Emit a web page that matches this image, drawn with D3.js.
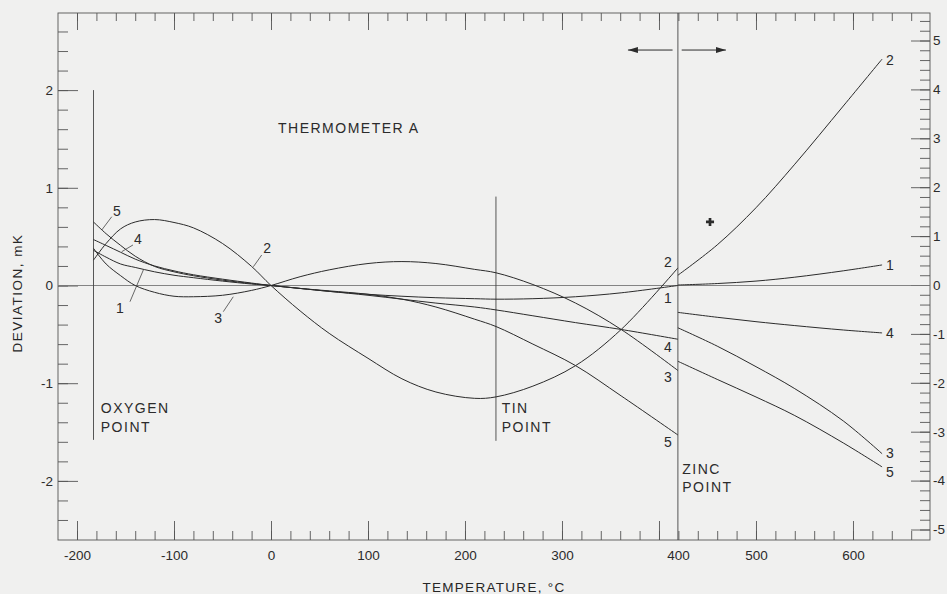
<html>
<head>
<meta charset="utf-8">
<title>Thermometer A deviations</title>
<script src="https://d3js.org/d3.v7.min.js" charset="utf-8"></script>
<style type="text/css">
    body { margin: 0; background: #f0f0ef; }
    svg { display: block; }
    text { font-family: "Liberation Sans", Arial, sans-serif; fill: #262626; }
</style>
</head>
<body>
<div id="chart"></div>
<script>
// temperatures (deg C) for the part below the zinc point
var lowTemps = [-183, -170, -155, -140, -120, -100, -80, -50, -20, 0, 30, 60, 100, 135, 170, 210, 232, 270, 314, 361, 419.5];
// deviations in mK (left scale)
var low1 = [0.36, 0.29, 0.22, 0.185, 0.14, 0.105, 0.08, 0.045, 0.015, 0, -0.03, -0.06, -0.09, -0.11, -0.125, -0.135, -0.14, -0.135, -0.115, -0.075, 0.0];
var low2 = [0.26, 0.43, 0.58, 0.65, 0.675, 0.645, 0.59, 0.43, 0.195, 0, -0.26, -0.49, -0.745, -0.955, -1.09, -1.155, -1.14, -1.03, -0.82, -0.45, 0.18];
var low3 = [0.38, 0.22, 0.1, 0.0, -0.07, -0.11, -0.115, -0.1, -0.05, 0, 0.09, 0.16, 0.225, 0.245, 0.225, 0.165, 0.13, 0.01, -0.18, -0.45, -0.87];
var low4 = [0.47, 0.41, 0.34, 0.27, 0.2, 0.15, 0.11, 0.065, 0.025, 0, -0.03, -0.06, -0.1, -0.14, -0.18, -0.22, -0.25, -0.31, -0.38, -0.45, -0.55];
var low5 = [0.65, 0.53, 0.41, 0.3, 0.195, 0.14, 0.1, 0.055, 0.02, 0, -0.03, -0.055, -0.09, -0.14, -0.22, -0.345, -0.42, -0.6, -0.82, -1.13, -1.53];

// above the zinc point (right scale)
var highTemps = [419.5, 460, 500, 540, 590, 630];
var high1 = [0.0, 0.03, 0.08, 0.16, 0.29, 0.41];
var high2 = [0.2, 0.82, 1.58, 2.47, 3.66, 4.62];
var high3 = [-0.875, -1.25, -1.67, -2.12, -2.78, -3.45];
var high4 = [-0.56, -0.66, -0.75, -0.83, -0.92, -0.98];
var high5 = [-1.56, -1.93, -2.29, -2.67, -3.23, -3.72];

var curveNames = ['1', '2', '3', '4', '5'];
var lowSeries = [low1, low2, low3, low4, low5];
var highSeries = [high1, high2, high3, high4, high5];

var xMajor = [-200, -100, 0, 100, 200, 300, 400, 500, 600];
var leftMajor = [-2, -1, 0, 1, 2];
var rightMajor = [-5, -4, -3, -2, -1, 0, 1, 2, 3, 4, 5];

var fixedPoints = {oxygen: -183, tin: 231.9, zinc: 419.5};

var W = 947, H = 594;
var margin = {top: 13, right: 17, bottom: 54, left: 58};
var x0 = margin.left, x1 = W - margin.right, y0 = margin.top, y1 = H - margin.bottom;

var ink = '#2b2b2b';

//scales
var xScale = d3.scaleLinear().domain([-219.6, 679.4]).range([x0, x1]);
var yLeft = d3.scaleLinear().domain([-(y1 - 285.5) / 97.7, (285.5 - y0) / 97.7]).range([y1, y0]);
var yRight = d3.scaleLinear().domain([-(y1 - 285) / 48.9, (285 - y0) / 48.9]).range([y1, y0]);

var svg = d3.select('#chart').append('svg')
    .attr('width', W)
    .attr('height', H)
    .style('background', '#f0f0ef');

function styleAxis(g) {
    g.select('.domain').remove();
    g.selectAll('line').style('stroke', '#555').style('stroke-width', 0.9);
    g.selectAll('text').style('font-size', '13.5px').style('fill', ink);
}
// plain hyphen like the original, not the unicode minus
var plain = function(d) { return String(d); };

// minor ticks every 20 deg, major every 100
var xMinor = d3.range(-200, 661, 20);
var leftMinor = d3.range(-24, 27, 2).map(function(d) { return d / 10; });
var rightMinor = d3.range(-50, 55, 2).map(function(d) { return d / 10; });

svg.append('g').attr('transform', 'translate(0,' + y0 + ')')
    .call(d3.axisTop(xScale).tickValues(xMinor).tickSize(-8).tickFormat('')).call(styleAxis);
svg.append('g').attr('transform', 'translate(0,' + y0 + ')')
    .call(d3.axisTop(xScale).tickValues(xMajor).tickSize(-17).tickFormat('')).call(styleAxis);
svg.append('g').attr('transform', 'translate(0,' + y1 + ')')
    .call(d3.axisBottom(xScale).tickValues(xMinor).tickSize(-9).tickFormat('')).call(styleAxis);
var bottomAxis = svg.append('g').attr('transform', 'translate(0,' + y1 + ')')
    .call(d3.axisBottom(xScale).tickValues(xMajor).tickSize(-19).tickPadding(10).tickFormat(plain))
    .call(styleAxis);
// the "400" label sits under the zinc line in the original
bottomAxis.selectAll('.tick').filter(function(d) { return d === 400; }).select('text')
    .attr('x', xScale(fixedPoints.zinc) - xScale(400));

svg.append('g').attr('transform', 'translate(' + x0 + ',0)')
    .call(d3.axisLeft(yLeft).tickValues(leftMinor).tickSize(-10).tickFormat('')).call(styleAxis);
svg.append('g').attr('transform', 'translate(' + x0 + ',0)')
    .call(d3.axisLeft(yLeft).tickValues(leftMajor).tickSize(-20).tickPadding(5).tickFormat(plain))
    .call(styleAxis);
svg.append('g').attr('transform', 'translate(' + x1 + ',0)')
    .call(d3.axisRight(yRight).tickValues(rightMinor).tickSize(-10).tickFormat('')).call(styleAxis);
svg.append('g').attr('transform', 'translate(' + x1 + ',0)')
    .call(d3.axisRight(yRight).tickValues(rightMajor).tickSize(-19).tickPadding(3).tickFormat(plain))
    .call(styleAxis);

// frame
svg.append('rect')
    .attr('x', x0).attr('y', y0)
    .attr('width', x1 - x0).attr('height', y1 - y0)
    .style('fill', 'none').style('stroke', '#555').style('stroke-width', 0.9);

// zero line
svg.append('line')
    .attr('x1', x0).attr('x2', x1)
    .attr('y1', yLeft(0)).attr('y2', yLeft(0))
    .style('stroke', '#777').style('stroke-width', 0.9);

// fixed point lines
function vline(t, dTop, dBottom) {
    svg.append('line')
        .attr('x1', xScale(t)).attr('x2', xScale(t))
        .attr('y1', yLeft(dTop)).attr('y2', yLeft(dBottom))
        .style('stroke', '#444').style('stroke-width', 0.9);
}
vline(fixedPoints.oxygen, 2, -1.58);
vline(fixedPoints.tin, 0.91, -1.59);
vline(fixedPoints.zinc, yLeft.domain()[1], yLeft.domain()[0]);

// curves
var lowLine = d3.line()
    .x(function(d) { return xScale(d[0]); })
    .y(function(d) { return yLeft(d[1]); })
    .curve(d3.curveCatmullRom.alpha(0.5));
var highLine = d3.line()
    .x(function(d) { return xScale(d[0]); })
    .y(function(d) { return yRight(d[1]); })
    .curve(d3.curveCatmullRom.alpha(0.5));

svg.append('g').selectAll('path.low')
    .data(lowSeries)
    .enter().append('path')
    .attr('d', function(s) { return lowLine(d3.zip(lowTemps, s)); })
    .style('fill', 'none').style('stroke', ink).style('stroke-width', 1);

svg.append('g').selectAll('path.high')
    .data(highSeries)
    .enter().append('path')
    .attr('d', function(s) { return highLine(d3.zip(highTemps, s)); })
    .style('fill', 'none').style('stroke', ink).style('stroke-width', 1);

// curve numbers
var numStyle = function(sel) {
    sel.attr('text-anchor', 'middle').attr('dominant-baseline', 'central')
        .style('font-size', '14px').style('fill', ink);
};
var leftNums = [[-158.8, 0.763, '5'], [-137.1, 0.476, '4'], [-155.7, -0.23, '1'], [-54.6, -0.333, '3'], [-4.1, 0.384, '2']];
var leftLeaders = [[-164.2, 0.704, -174.5, 0.568], [-142.3, 0.415, -153.9, 0.346], [-145.4, -0.166, -131.6, 0.159],
    [-49.2, -0.268, -38.9, -0.115], [-18.2, 0.192, -9.6, 0.312]];
svg.append('g').selectAll('text').data(leftNums).enter().append('text')
    .attr('x', function(d) { return xScale(d[0]); })
    .attr('y', function(d) { return yLeft(d[1]); })
    .text(function(d) { return d[2]; }).call(numStyle);
svg.append('g').selectAll('line').data(leftLeaders).enter().append('line')
    .attr('x1', function(d) { return xScale(d[0]); }).attr('y1', function(d) { return yLeft(d[1]); })
    .attr('x2', function(d) { return xScale(d[2]); }).attr('y2', function(d) { return yLeft(d[3]); })
    .style('stroke', '#444').style('stroke-width', 0.8);

// numbers just left of the zinc line (curves 1..5)
var zincNums = [-0.128, 0.24, -0.937, -0.629, -1.6];
svg.append('g').selectAll('text').data(curveNames).enter().append('text')
    .attr('x', xScale(409.3))
    .attr('y', function(d, i) { return yLeft(zincNums[i]); })
    .text(function(d) { return d; }).call(numStyle);

// numbers at the right ends (curves 1..5, right scale)
var endNums = [0.41, 4.6, -3.44, -0.98, -3.82];
svg.append('g').selectAll('text').data(curveNames).enter().append('text')
    .attr('x', xScale(638))
    .attr('y', function(d, i) { return yRight(endNums[i]); })
    .text(function(d) { return d; }).call(numStyle);

// annotations
function label(t, d, lines) {
    var txt = svg.append('text')
        .attr('x', xScale(t)).attr('y', yLeft(d))
        .attr('dominant-baseline', 'central')
        .style('font-size', '14px').style('letter-spacing', '1.5px').style('fill', ink);
    lines.forEach(function(l, i) {
        txt.append('tspan').attr('x', xScale(t)).attr('dy', i === 0 ? 0 : 18.5).text(l);
    });
}
label(7.2, 1.61, ['THERMOMETER A']);
label(-175.5, -1.254, ['OXYGEN', 'POINT']);
label(237.8, -1.254, ['TIN', 'POINT']);
label(424, -1.877, ['ZINC', 'POINT']);

// arrows for which scale applies
var defs = svg.append('defs');
defs.append('marker').attr('id', 'head')
    .attr('viewBox', '0 0 10 6').attr('refX', 10).attr('refY', 3)
    .attr('markerWidth', 10).attr('markerHeight', 6).attr('markerUnits', 'userSpaceOnUse')
    .attr('orient', 'auto')
    .append('path').attr('d', 'M0,0 L10,3 L0,6 Z').style('fill', ink);
[[414, 368], [423.4, 469]].forEach(function(a) {
    svg.append('line')
        .attr('x1', xScale(a[0])).attr('x2', xScale(a[1]))
        .attr('y1', yLeft(2.41)).attr('y2', yLeft(2.41))
        .style('stroke', ink).style('stroke-width', 1)
        .attr('marker-end', 'url(#head)');
});

// lone point above zinc
svg.append('path')
    .attr('transform', 'translate(' + xScale(452.6) + ',' + yRight(1.29) + ')')
    .attr('d', d3.symbol().type(d3.symbolCross).size(36))
    .style('fill', ink);

// axis titles
svg.append('text')
    .attr('x', (x0 + x1) / 2).attr('y', 587)
    .attr('text-anchor', 'middle').attr('dominant-baseline', 'central')
    .style('font-size', '13.5px').style('letter-spacing', '1.3px')
    .text('TEMPERATURE, \u00b0C');
svg.append('text')
    .attr('transform', 'translate(17,293) rotate(-90)')
    .attr('text-anchor', 'middle').attr('dominant-baseline', 'central')
    .style('font-size', '13.5px').style('letter-spacing', '1.5px')
    .text('DEVIATION, mK');
</script>
</body>
</html>
